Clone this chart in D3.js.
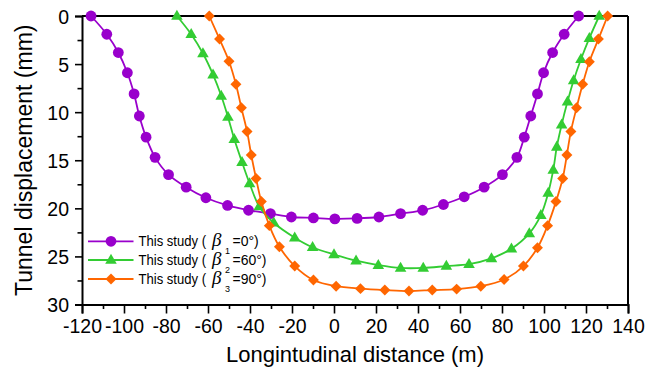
<!DOCTYPE html>
<html><head><meta charset="utf-8">
<script src="https://cdn.jsdelivr.net/npm/d3@7/dist/d3.min.js"></script>
<style>
html,body{margin:0;padding:0;background:#fff;}
svg{display:block;font-family:"Liberation Sans",Arial,sans-serif;}
</style></head>
<body>
<svg id="chart" width="656" height="371"></svg>
<script>
const xTicks = [-120,-100,-80,-60,-40,-20,0,20,40,60,80,100,120,140];
const yTicks = [0,5,10,15,20,25,30];

const x0 = [-115.7,-108.2,-102.7,-98.4,-95.2,-92.7,-89.5,-85.2,-78.8,-70.4,-61.0,-50.7,-40.7,-30.3,-20.3,-9.8,0.4,11.0,21.4,31.7,42.2,52.1,62.0,71.5,80.2,87.1,90.6,93.7,96.9,99.8,104.1,109.6,116.5];
const y0 = [0,1.9,3.8,5.9,8.1,10.4,12.6,14.7,16.5,17.8,18.9,19.7,20.2,20.55,20.9,21.0,21.1,21.05,20.9,20.55,20.2,19.6,18.8,17.8,16.5,14.7,12.6,10.4,8.1,5.9,3.8,1.9,0];

const x60 = [-74.8,-68.0,-62.4,-57.6,-53.7,-50.5,-47.5,-43.8,-40.2,-35.6,-28.7,-18.7,-10.2,0,10.5,21.1,31.7,42.5,53.5,64.3,75.0,84.5,93.0,98.5,102.0,104.4,106.1,108.4,111.2,114.1,117.6,121.6,126.3];
const y60 = [0,1.9,3.9,6.1,8.3,10.5,12.8,15.2,17.4,19.8,21.5,23.05,24.05,24.8,25.45,25.9,26.2,26.2,26.0,25.8,25.2,24.2,22.6,20.7,18.4,16.0,13.6,11.3,8.9,6.7,4.5,2.3,0];

const x90 = [-59.4,-54.5,-50.0,-46.7,-44.1,-41.4,-39.4,-37.1,-34.6,-30.8,-26.0,-18.7,-9.8,1.0,12.6,24.2,35.7,46.8,58.4,69.9,81.0,90.2,96.9,101.7,105.7,108.9,110.9,112.8,115.5,118.4,121.6,125.9,130.3];
const y90 = [0,2.4,4.7,7.1,9.55,12.0,14.45,16.9,19.3,21.8,24.0,26.0,27.45,28.1,28.35,28.5,28.6,28.5,28.4,28.1,27.4,26.0,24.1,21.8,19.3,16.9,14.45,12.0,9.55,7.1,4.75,2.4,0];

const seriesNames = ["1","2","3"];
const seriesAngles = ["0","60","90"];
const seriesColors = ["#9900cc","#33cc33","#ff6600"];
const seriesMarkers = ["circle","triangle","diamond"];

const svg = d3.select("#chart");
const L = 82, R = 628, T = 16, B = 304.5;
const x = d3.scaleLinear().domain([-120,140]).range([L,R]);
const y = d3.scaleLinear().domain([0,30]).range([T,B]);

const fmt = d => String(d);
const xMinor = d3.range(-110,140,20);
const yMinor = d3.range(2.5,30,5);

const gx = svg.append("g").attr("transform",`translate(0,${B})`);
gx.call(d3.axisBottom(x).tickValues(xTicks).tickSize(9).tickPadding(6).tickFormat(fmt));
const gxm = svg.append("g").attr("transform",`translate(0,${B})`);
gxm.call(d3.axisBottom(x).tickValues(xMinor).tickSize(4.5).tickFormat(""));
gxm.select(".domain").remove();

const gy = svg.append("g").attr("transform",`translate(${L},0)`);
gy.call(d3.axisLeft(y).tickValues(yTicks).tickSize(7).tickPadding(6).tickFormat(fmt));
const gym = svg.append("g").attr("transform",`translate(${L},0)`);
gym.call(d3.axisLeft(y).tickValues(yMinor).tickSize(4.5).tickFormat(""));
gym.select(".domain").remove();

svg.selectAll(".tick text").attr("font-size",19.5).attr("font-family","Liberation Sans, Arial, sans-serif").attr("fill","#000");
svg.selectAll(".tick line").attr("stroke","#000").attr("stroke-width",1.6);
svg.selectAll(".domain").attr("stroke","#000").attr("stroke-width",2);
gy.selectAll(".tick text").attr("dy","0.36em");

svg.append("line").attr("x1",L).attr("x2",R).attr("y1",T).attr("y2",T).attr("stroke","#000").attr("stroke-width",2);
svg.append("line").attr("x1",R).attr("x2",R).attr("y1",T).attr("y2",B).attr("stroke","#000").attr("stroke-width",2);

svg.append("text").attr("x",(L+R)/2).attr("y",362).attr("text-anchor","middle")
  .attr("font-size",22).text("Longintudinal distance (m)");
svg.append("text").attr("transform",`translate(31.5,${(T+B)/2}) rotate(-90)`).attr("text-anchor","middle")
  .attr("font-size",23).text("Tunnel displacement (mm)");

const data = [
  x0.map((v,i)=>({x:v,y:y0[i]})),
  x60.map((v,i)=>({x:v,y:y60[i]})),
  x90.map((v,i)=>({x:v,y:y90[i]}))
];
const line = d3.line().x(d=>x(d.x)).y(d=>y(d.y)).curve(d3.curveCatmullRom.alpha(0.5));

function marker(g, type, color){
  if(type==="circle"){
    g.append("circle").attr("r",5.4).attr("fill",color);
  } else if(type==="triangle"){
    g.append("path").attr("d",d3.symbol(d3.symbolTriangle,58)()).attr("fill",color).attr("transform","translate(0,0.5)");
  } else {
    g.append("path").attr("d",d3.symbol(d3.symbolSquare,60)()).attr("fill",color).attr("transform","rotate(45)");
  }
}

data.forEach((pts,si)=>{
  const g = svg.append("g");
  g.append("path").datum(pts).attr("d",line).attr("fill","none")
    .attr("stroke",seriesColors[si]).attr("stroke-width",1.8);
  pts.forEach(p=>{
    const m = g.append("g").attr("transform",`translate(${x(p.x)},${y(p.y)})`);
    marker(m, seriesMarkers[si], seriesColors[si]);
  });
});

const legY = [241.3, 260, 279];
seriesNames.forEach((n,i)=>{
  const cy = legY[i];
  const g = svg.append("g");
  g.append("line").attr("x1",88).attr("x2",133.5).attr("y1",cy).attr("y2",cy)
    .attr("stroke",seriesColors[i]).attr("stroke-width",1.8);
  const m = g.append("g").attr("transform",`translate(111,${cy})`);
  marker(m, seriesMarkers[i], seriesColors[i]);
  g.append("text").attr("x",138.5).attr("y",cy+5).attr("font-size",14.5)
    .attr("textLength",67.5).attr("lengthAdjust","spacingAndGlyphs").text("This study (");
  g.append("text").attr("x",212).attr("y",cy+5).attr("font-size",19)
    .attr("font-family","Liberation Serif, Times New Roman, serif").attr("font-style","italic").text("β");
  g.append("text").attr("x",225).attr("y",cy+13).attr("font-size",9).text(n);
  g.append("text").attr("x",232.5).attr("y",cy+5).attr("font-size",14)
    .text("="+seriesAngles[i]+"°)");
});
</script>
</body></html>
